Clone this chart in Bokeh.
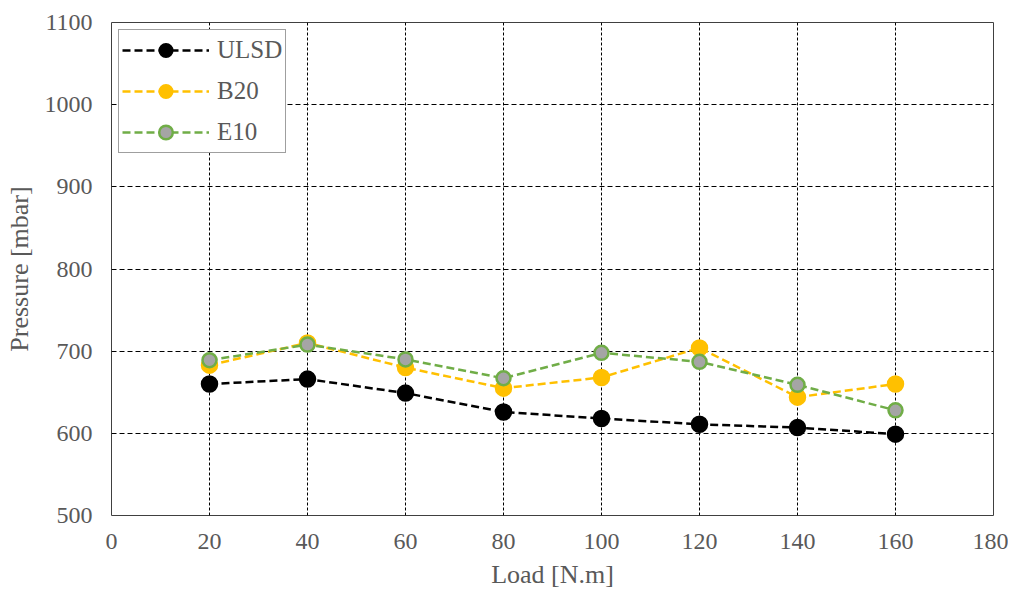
from bokeh.plotting import figure
from bokeh.models import Range1d, FixedTicker, Legend, LegendItem
from bokeh.embed import file_html
from bokeh.resources import INLINE

load = [20, 40, 60, 80, 100, 120, 140, 160]
ulsd = [660, 666, 649, 626, 618, 611, 607, 599]
b20 = [683, 710, 680, 655, 668, 704, 644, 660]
e10 = [689, 708, 690, 667, 698, 687, 659, 628]
x_ticks = [0, 20, 40, 60, 80, 100, 120, 140, 160, 180]
y_ticks = [500, 600, 700, 800, 900, 1000, 1100]

FONT = "Liberation Serif"
GREY = "#595959"

p = figure(width=1008, height=592, output_backend="svg", toolbar_location=None,
           x_range=Range1d(0, 180), y_range=Range1d(500, 1100),
           min_border_left=111, min_border_right=15, min_border_top=22, min_border_bottom=77)

p.xaxis.ticker = FixedTicker(ticks=x_ticks)
p.yaxis.ticker = FixedTicker(ticks=y_ticks)
for ax in (p.xaxis[0], p.yaxis[0]):
    ax.axis_line_color = None
    ax.major_tick_line_color = None
    ax.minor_tick_line_color = None
    ax.major_label_text_font = FONT
    ax.major_label_text_font_size = "24px"
    ax.major_label_text_color = GREY
    ax.axis_label_text_font = FONT
    ax.axis_label_text_font_size = "26px"
    ax.axis_label_text_color = GREY
    ax.axis_label_text_font_style = "normal"
p.xaxis.axis_label = "Load [N.m]"
p.yaxis.axis_label = "Pressure [mbar]"
p.xaxis.major_label_standoff = 12
p.yaxis.major_label_standoff = 13
p.xaxis.axis_label_standoff = 8
p.yaxis.axis_label_standoff = 8

p.xgrid.grid_line_color = "black"
p.xgrid.grid_line_dash = "3 2"
p.xgrid.grid_line_width = 1
p.ygrid.grid_line_color = "black"
p.ygrid.grid_line_dash = "5 3"
p.ygrid.grid_line_width = 1
p.outline_line_color = "#404040"
p.outline_line_width = 1

items = []
l1 = p.line(load, ulsd, line_color="black", line_dash="8 4", line_width=2.5)
c1 = p.scatter(load, ulsd, size=16, fill_color="black", line_color="black", line_width=1.5)
items.append(LegendItem(label="ULSD", renderers=[l1, c1]))
l2 = p.line(load, b20, line_color="#FFC000", line_dash="8 4", line_width=2.5)
c2 = p.scatter(load, b20, size=16, fill_color="#FFC000", line_color="#FFC000", line_width=1.5)
items.append(LegendItem(label="B20", renderers=[l2, c2]))
l3 = p.line(load, e10, line_color="#70AD47", line_dash="8 4", line_width=2.5)
c3 = p.scatter(load, e10, size=14, fill_color="#A5A5A5", line_color="#70AD47", line_width=2.5)
items.append(LegendItem(label="E10", renderers=[l3, c3]))

legend = Legend(items=items, location="top_left")
legend.label_text_font = FONT
legend.label_text_font_size = "25px"
legend.label_text_color = GREY
legend.border_line_color = "#404040"
legend.border_line_width = 1
legend.glyph_width = 87
legend.glyph_height = 34
legend.label_height = 20
legend.spacing = 7
legend.padding = 3
legend.margin = 7
legend.label_standoff = 8
legend.background_fill_color = "white"
legend.background_fill_alpha = 1
p.add_layout(legend)

open("out.html", "w").write(file_html(p, INLINE))
